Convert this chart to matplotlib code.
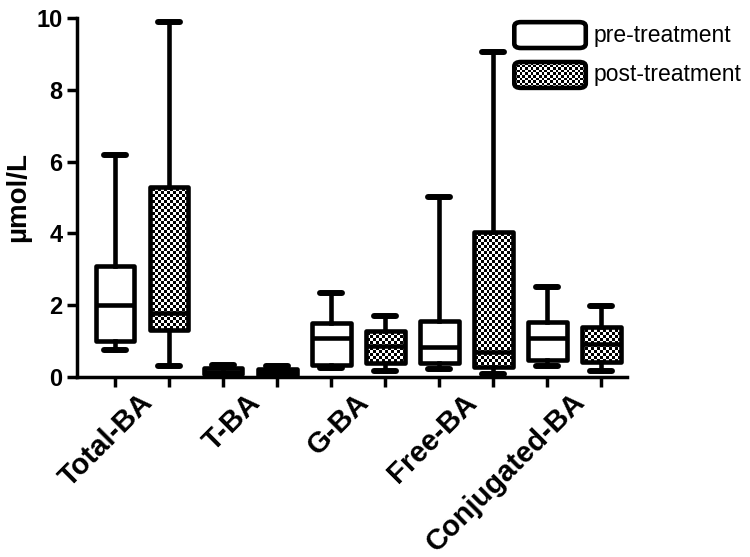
import numpy as np
import matplotlib.pyplot as plt
from matplotlib.patches import FancyBboxPatch

plt.rcParams['font.family'] = ['Liberation Sans', 'DejaVu Sans']

# data (µmol/L): low whisker, Q1, median, Q3, high whisker
groups = ['Total-BA', 'T-BA', 'G-BA', 'Free-BA', 'Conjugated-BA']
pre_low = [0.75, 0.03, 0.25, 0.22, 0.30]
pre_q1 = [1.01, 0.08, 0.33, 0.39, 0.47]
pre_med = [2.00, 0.15, 1.10, 0.85, 1.10]
pre_q3 = [3.10, 0.25, 1.50, 1.57, 1.54]
pre_high = [6.18, 0.33, 2.35, 5.00, 2.50]

post_low = [0.31, 0.02, 0.18, 0.08, 0.18]
post_q1 = [1.31, 0.07, 0.40, 0.29, 0.43]
post_med = [1.77, 0.13, 0.87, 0.70, 0.91]
post_q3 = [5.30, 0.22, 1.28, 4.05, 1.39]
post_high = [9.87, 0.30, 1.70, 9.05, 1.98]

fig = plt.figure(figsize=(7.5, 5.57), dpi=100)
ax = fig.add_axes([0.103, 0.323, 0.733, 0.645])

lw = 3.3


def stats(lo, q1, med, q3, hi):
    return [dict(whislo=a, q1=b, med=c, q3=d, whishi=e, fliers=[])
            for a, b, c, d, e in zip(lo, q1, med, q3, hi)]


def checker(w_px, h_px, cell=3):
    yy, xx = np.mgrid[0:int(h_px // cell) + 1, 0:int(w_px // cell) + 1]
    return (xx + yy) % 2


pre_pos = np.arange(len(groups)) * 2 + 1
post_pos = pre_pos + 1

common = dict(widths=0.72, showfliers=False, patch_artist=True,
              boxprops=dict(linewidth=lw, edgecolor='black', joinstyle='round'),
              medianprops=dict(color='black', linewidth=lw),
              whiskerprops=dict(color='black', linewidth=lw),
              capprops=dict(color='black', linewidth=lw * 1.3, solid_capstyle='round'),
              capwidths=0.42)

ax.set_xlim(0.3, 10.48)
ax.set_ylim(0, 10)

b1 = ax.bxp(stats(pre_low, pre_q1, pre_med, pre_q3, pre_high),
            positions=pre_pos, **common)
for p in b1['boxes']:
    p.set_facecolor('white')
b2 = ax.bxp(stats(post_low, post_q1, post_med, post_q3, post_high),
            positions=post_pos, **common)

# checkered fill for post-treatment boxes
ax_w = 0.733 * 750
ax_h = 0.645 * 557
pattern = checker(ax_w, ax_h)
for p in b2['boxes']:
    p.set_facecolor('none')
    im = ax.imshow(pattern, cmap='gray', interpolation='nearest',
                   extent=(0.3, 10.48, 0, 10), aspect='auto', zorder=1.9)
    im.set_clip_path(p)

ax.set_yticks([0, 2, 4, 6, 8, 10])
ax.set_xticks(np.arange(1, 11))
ax.set_xticklabels([])
for g, x in zip(groups, pre_pos + 0.5):
    ax.text(x - 0.07, -0.3, g, rotation=45, ha='right', va='top',
            rotation_mode='anchor', fontsize=21, fontweight='bold')

ax.spines['top'].set_visible(False)
ax.spines['right'].set_visible(False)
ax.spines['left'].set_linewidth(2.5)
ax.spines['bottom'].set_linewidth(2.5)
ax.tick_params(axis='both', width=2.5, length=7, direction='out')
for t in ax.get_yticklabels():
    t.set_fontsize(17)
    t.set_fontweight('bold')
ax.set_ylabel('µmol/L', fontsize=20, fontweight='bold', labelpad=4)

# legend drawn by hand so the checker pattern can be shown
leg_items = [('pre-treatment', 0.916), ('post-treatment', 0.805)]
for i, (label, y0) in enumerate(leg_items):
    box = FancyBboxPatch((0.795, y0), 0.13, 0.072,
                         boxstyle='round,pad=0,rounding_size=0.012',
                         transform=ax.transAxes, facecolor='white' if i == 0 else 'none',
                         edgecolor='black', linewidth=lw, clip_on=False, zorder=3)
    ax.add_patch(box)
    if i == 1:
        im = ax.imshow(checker(75, 28), cmap='gray', interpolation='nearest',
                       extent=(0.795, 0.925, y0, y0 + 0.072), transform=ax.transAxes,
                       aspect='auto', zorder=2.9)
        im.set_clip_path(box)
    ax.text(0.94, y0 + 0.036, label, transform=ax.transAxes, fontsize=16.5,
            va='center', ha='left', clip_on=False)

ax.set_xlim(0.3, 10.48)
ax.set_ylim(0, 10)

fig.savefig('out.png', dpi=100)
